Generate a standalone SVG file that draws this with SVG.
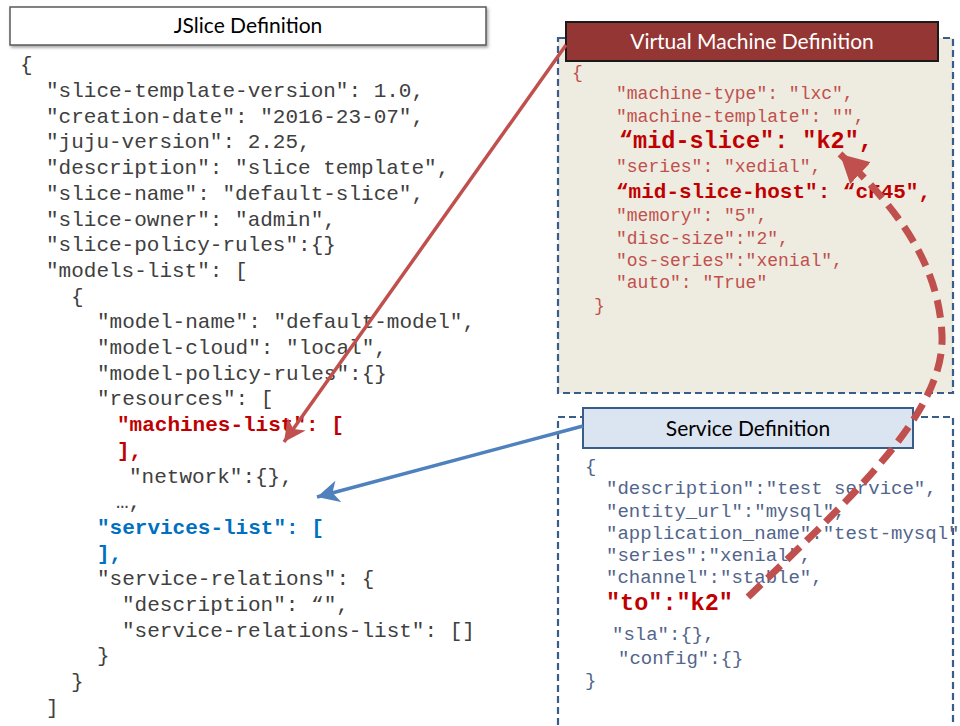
<svg xmlns="http://www.w3.org/2000/svg" width="960" height="726" viewBox="0 0 960 726">
  <style>
    .mono { font-family: "Liberation Mono", "Courier New", monospace; }
    .title { font-family: Lato, "Liberation Sans", sans-serif; font-size: 21px; text-anchor: middle; }
    .jslice { font-size: 21px; fill: #404040; }
    .jslice .red { fill: #c00000; font-weight: bold; }
    .jslice .blue { fill: #0070c0; font-weight: bold; }
    .vm { font-size: 18px; fill: #c0504d; }
    .vm .hot { fill: #c00000; font-weight: bold; }
    .svc { font-size: 19px; fill: #52658c; }
    .svc .hot { fill: #c00000; font-weight: bold; font-size: 23.5px; }
    .frame { stroke: #385d8a; stroke-width: 2.2; stroke-dasharray: 7 4; }
  </style>
  <defs>
    <filter id="soft" x="-5%" y="-20%" width="115%" height="160%">
      <feDropShadow dx="1.5" dy="2" stdDeviation="1.5" flood-color="#000" flood-opacity="0.35"/>
    </filter>
    <marker id="headRed" markerUnits="userSpaceOnUse" markerWidth="26" markerHeight="22" refX="22" refY="11" orient="auto">
      <path d="M0,0 L22,11 L0,22 L6,11 Z" fill="#c0504d"/>
    </marker>
    <marker id="headBlue" markerUnits="userSpaceOnUse" markerWidth="26" markerHeight="22" refX="22" refY="11" orient="auto">
      <path d="M0,0 L22,11 L0,22 L6,11 Z" fill="#4f81bd"/>
    </marker>
    <marker id="headBig" markerUnits="userSpaceOnUse" markerWidth="30" markerHeight="30" refX="28" refY="15" orient="auto">
      <path d="M0,0 L28,15 L0,30 Z" fill="#c0504d"/>
    </marker>
  </defs>

  <rect width="960" height="726" fill="#ffffff"/>

  <!-- JSlice definition -->
  <g id="jslice">
    <rect x="10" y="7" width="476" height="38" fill="#ffffff" stroke="#595959" stroke-width="1.5" filter="url(#soft)"/>
    <text class="title" x="248" y="33" fill="#000000">JSlice Definition</text>
    <g class="mono jslice">
      <text x="20" y="71.3">{</text>
      <text x="46" y="97">"slice-template-version": 1.0,</text>
      <text x="46" y="122.7">"creation-date": "2016-23-07",</text>
      <text x="46" y="148.4">"juju-version": 2.25,</text>
      <text x="46" y="174.1">"description": "slice template",</text>
      <text x="46" y="199.8">"slice-name": "default-slice",</text>
      <text x="46" y="225.5">"slice-owner": "admin",</text>
      <text x="46" y="251.2">"slice-policy-rules":{}</text>
      <text x="46" y="276.9">"models-list": [</text>
      <text x="71" y="302.6">{</text>
      <text x="97" y="328.3">"model-name": "default-model",</text>
      <text x="97" y="354">"model-cloud": "local",</text>
      <text x="97" y="379.7">"model-policy-rules":{}</text>
      <text x="97" y="405.4">"resources": [</text>
      <text class="red" x="117" y="431.1">"machines-list": [</text>
      <text class="red" x="117" y="456.8">],</text>
      <text x="129" y="482.5">"network":{},</text>
      <text x="116" y="508.2">…,</text>
      <text class="blue" x="97" y="533.9">"services-list": [</text>
      <text class="blue" x="97" y="559.6">],</text>
      <text x="97" y="585.3">"service-relations": {</text>
      <text x="122" y="611">"description": “",</text>
      <text x="122" y="636.7">"service-relations-list": []</text>
      <text x="97" y="662.4">}</text>
      <text x="71" y="688.1">}</text>
      <text x="46" y="713.8">]</text>
    </g>
  </g>

  <!-- Virtual machine definition -->
  <g id="vm">
    <rect class="frame" x="558" y="38" width="395" height="355" fill="#eeebe0"/>
    <rect x="566" y="22" width="372" height="39" fill="#943634" stroke="#1a1a1a" stroke-width="2"/>
    <text class="title" x="752" y="49" fill="#ffffff" font-size="22">Virtual Machine Definition</text>
    <g class="mono vm">
      <text x="572" y="78">{</text>
      <text x="616" y="99">"machine-type": "lxc",</text>
      <text x="616" y="122">"machine-template": "",</text>
      <text class="hot" x="619" y="148" font-size="23.5">“mid-slice": "k2",</text>
      <text x="616" y="172">"series": "xedial",</text>
      <text class="hot" x="616" y="198" font-size="21">“mid-slice-host": “cF45",</text>
      <text x="616" y="221">"memory": "5",</text>
      <text x="616" y="244">"disc-size":"2",</text>
      <text x="616" y="266">"os-series":"xenial",</text>
      <text x="616" y="288">"auto": "True"</text>
      <text x="594" y="311">}</text>
    </g>
  </g>

  <!-- Service definition -->
  <g id="service">
    <rect class="frame" x="558" y="417" width="395" height="320" fill="none"/>
    <rect x="583" y="408" width="330" height="40" fill="#dbe5f1" stroke="#385d8a" stroke-width="2"/>
    <text class="title" x="748" y="436" fill="#000000" font-size="21.5">Service Definition</text>
    <g class="mono svc">
      <text x="585" y="472">{</text>
      <text x="606" y="494">"description":"test service",</text>
      <text x="606" y="517">"entity_url":"mysql",</text>
      <text x="606" y="539">"application_name":"test-mysql",</text>
      <text x="606" y="561">"series":"xenial",</text>
      <text x="606" y="583">"channel":"stable",</text>
      <text class="hot" x="606" y="610">"to":"k2"</text>
      <text x="612" y="640">"sla":{},</text>
      <text x="618" y="664">"config":{}</text>
      <text x="585" y="686">}</text>
    </g>
  </g>

  <!-- Connectors -->
  <g id="connectors" fill="none">
    <line x1="566" y1="45" x2="284" y2="442" stroke="#c0504d" stroke-width="3.5" marker-end="url(#headRed)"/>
    <line x1="583" y1="426" x2="317" y2="497" stroke="#4f81bd" stroke-width="3.5" marker-end="url(#headBlue)"/>
    <path d="M748,597 C860,490 945,410 942,335 C939,270 905,215 840,154" stroke="#c0504d" stroke-width="7" stroke-dasharray="18 9" marker-end="url(#headBig)"/>
  </g>
</svg>
